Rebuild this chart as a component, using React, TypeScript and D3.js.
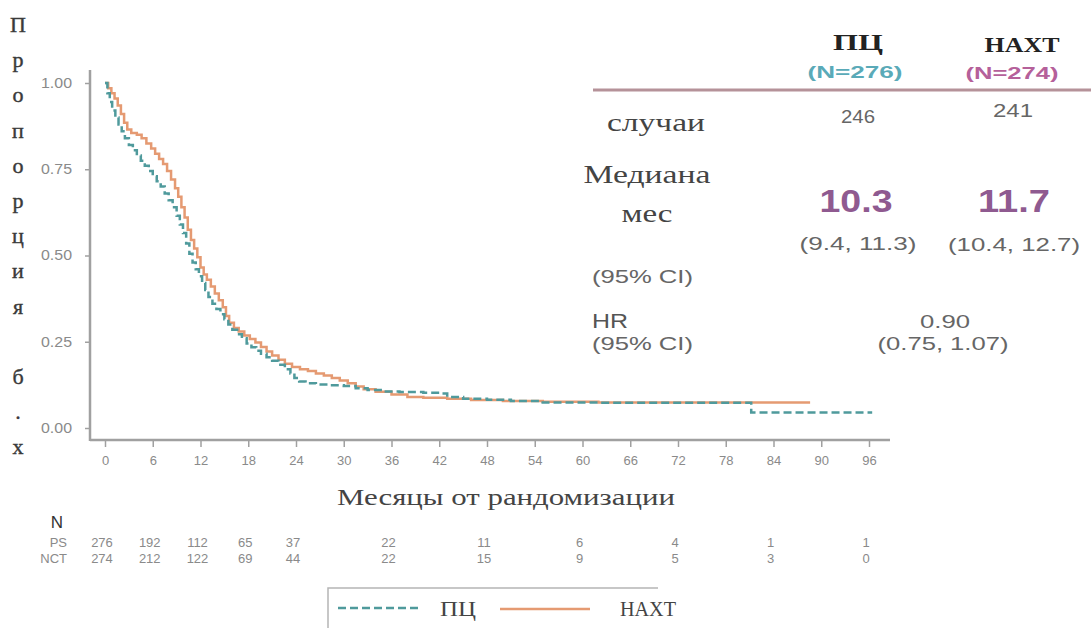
import React, { useEffect, useRef } from "react";
import * as d3 from "d3";

// ---- Data ----
const psTimes = [0, 0.3, 0.6, 0.9, 1.3, 1.7, 2.1, 2.5, 3.0, 3.5, 4.0, 4.5, 5.0, 5.5, 6.0, 6.5, 7.0, 7.5, 8.0, 8.5, 9.0, 9.4, 9.8, 10.2, 10.6, 11.0, 11.4, 11.8, 12.2, 12.6, 13.0, 13.5, 14.0, 14.5, 15.0, 15.5, 16.0, 16.6, 17.2, 17.8, 18.4, 19.0, 19.6, 20.3, 21.0, 21.8, 22.6, 23.3, 23.8, 24.4, 25.2, 26.5, 28, 30, 31.5, 33, 35, 37, 40, 42, 43, 45, 48, 51, 55, 62, 81.2, 96.4];
const psValues = [1.0, 0.97, 0.945, 0.92, 0.9, 0.88, 0.86, 0.84, 0.82, 0.805, 0.79, 0.775, 0.76, 0.745, 0.73, 0.715, 0.7, 0.68, 0.66, 0.64, 0.615, 0.59, 0.565, 0.535, 0.505, 0.48, 0.46, 0.44, 0.42, 0.4, 0.38, 0.36, 0.345, 0.33, 0.315, 0.3, 0.285, 0.272, 0.26, 0.245, 0.234, 0.224, 0.215, 0.205, 0.195, 0.183, 0.17, 0.158, 0.145, 0.135, 0.13, 0.126, 0.124, 0.122, 0.115, 0.11, 0.106, 0.104, 0.102, 0.1, 0.09, 0.085, 0.082, 0.078, 0.074, 0.073, 0.045, 0.045];

const nctTimes = [0, 0.4, 0.8, 1.2, 1.6, 2.0, 2.4, 2.8, 3.3, 4.0, 4.6, 5.2, 5.8, 6.3, 6.8, 7.3, 7.8, 8.3, 8.8, 9.2, 9.6, 10.0, 10.4, 10.8, 11.2, 11.6, 12.0, 12.4, 12.8, 13.3, 13.8, 14.3, 14.8, 15.2, 15.6, 16.2, 16.8, 17.5, 18.2, 18.9, 19.6, 20.3, 21.0, 21.8, 22.6, 23.5, 24.5, 25.5, 26.5, 27.5, 28.5, 29.5, 30.5, 31.5, 32.5, 34, 36, 38, 40, 43, 46, 50, 55, 62, 88.6];
const nctValues = [1.0, 0.985, 0.97, 0.955, 0.935, 0.91, 0.885, 0.865, 0.855, 0.85, 0.84, 0.825, 0.81, 0.795, 0.78, 0.765, 0.745, 0.72, 0.695, 0.67, 0.64, 0.61, 0.575, 0.545, 0.52, 0.495, 0.465, 0.445, 0.43, 0.41, 0.39, 0.37, 0.35, 0.325, 0.305, 0.29, 0.28, 0.268, 0.258, 0.248, 0.235, 0.222, 0.21, 0.198, 0.186, 0.177, 0.17, 0.165, 0.158, 0.152, 0.145, 0.138, 0.13, 0.12, 0.112, 0.105, 0.097, 0.09, 0.088, 0.085, 0.081, 0.078, 0.076, 0.074, 0.074];

const xTicks = [0, 6, 12, 18, 24, 30, 36, 42, 48, 54, 60, 66, 72, 78, 84, 90, 96];
const yTicks = [0, 0.25, 0.5, 0.75, 1.0];

const riskTimes = [0, 6, 12, 18, 24, 36, 48, 60, 72, 84, 96];
const riskPS = [276, 192, 112, 65, 37, 22, 11, 6, 4, 1, 1];
const riskNCT = [274, 212, 122, 69, 44, 22, 15, 9, 5, 3, 0];

const yLabelChars = ["П", "р", "о", "п", "о", "р", "ц", "и", "я", " ", "б", ".", "х"];

const TEAL = "#4f9a9c";
const ORANGE = "#e59a72";
const SERIF = "'Liberation Serif', 'DejaVu Serif', serif";
const SANS = "'Liberation Sans', Arial, sans-serif";
const NARROW = "'Liberation Sans Narrow', 'Liberation Sans', sans-serif";

type TP = { x: number; y: number; w: number; size: number; fill: string; family?: string; bold?: boolean; anchor?: string; children: React.ReactNode };
function T({ x, y, w, size, fill, family = SANS, bold = false, anchor = "start", children }: TP) {
  return (
    <text
      x={x}
      y={y}
      textLength={w}
      lengthAdjust="spacingAndGlyphs"
      fontFamily={family}
      fontWeight={bold ? "bold" : "normal"}
      fontSize={size}
      fill={fill}
      textAnchor={anchor as any}
    >
      {children}
    </text>
  );
}

export default function App() {
  const xAxisRef = useRef<SVGGElement>(null);
  const yAxisRef = useRef<SVGGElement>(null);

  const x = d3.scaleLinear().domain([0, 96]).range([105, 869]);
  const y = d3.scaleLinear().domain([0, 1]).range([428, 83]);

  useEffect(() => {
    if (xAxisRef.current) {
      const g = d3.select(xAxisRef.current);
      g.selectAll("*").remove();
      g.call(d3.axisBottom(x).tickValues(xTicks).tickSize(7).tickPadding(9).tickFormat(d3.format("d")) as any);
      g.select(".domain").attr("d", "M90,0H890").attr("stroke", "#a0a0a0").attr("stroke-width", 2.5);
      g.selectAll(".tick line").attr("stroke", "#a0a0a0").attr("stroke-width", 1.5);
      g.selectAll(".tick text").attr("fill", "#8a8a8a").attr("font-size", 13).attr("font-family", NARROW);
    }
    if (yAxisRef.current) {
      const g = d3.select(yAxisRef.current);
      g.selectAll("*").remove();
      g.call(d3.axisLeft(y).tickValues(yTicks).tickSize(5).tickPadding(13).tickFormat(d3.format(".2f")) as any);
      g.select(".domain").attr("d", "M0,70V441").attr("stroke", "#a0a0a0").attr("stroke-width", 2.5);
      g.selectAll(".tick line").attr("stroke", "#a0a0a0").attr("stroke-width", 1.5);
      g.selectAll(".tick text")
        .attr("fill", "#8a8a8a")
        .attr("font-size", 14)
        .attr("font-family", NARROW)
        .attr("textLength", 31)
        .attr("lengthAdjust", "spacingAndGlyphs");
    }
  }, []);

  const line = d3
    .line<[number, number]>()
    .x((d) => x(d[0]))
    .y((d) => y(d[1]))
    .curve(d3.curveStepAfter);

  const psPath = line(psTimes.map((t, i) => [t, psValues[i]] as [number, number])) || "";
  const nctPath = line(nctTimes.map((t, i) => [t, nctValues[i]] as [number, number])) || "";

  return (
    <svg
      width={1091}
      height={628}
      style={{ position: "absolute", left: 0, top: 0, background: "#fff" }}
    >
      <rect x={0} y={0} width={1091} height={628} fill="#fff" />

      {/* vertical y label */}
      {yLabelChars.map((c, i) => (
        <text
          key={i}
          x={18}
          y={32 + i * 35.2}
          textAnchor="middle"
          fontFamily={SERIF}
          fontSize={22}
          fill="#3a3a3a"
          stroke="#3a3a3a"
          strokeWidth={0.4}
        >
          {c}
        </text>
      ))}

      <g ref={yAxisRef} transform="translate(90,0)" />
      <g ref={xAxisRef} transform="translate(0,440)" />

      {/* curves */}
      <path d={nctPath} fill="none" stroke={ORANGE} strokeWidth={2.5} />
      <path d={psPath} fill="none" stroke={TEAL} strokeWidth={2.5} strokeDasharray="8,4" />

      {/* x label */}
      <T x={506} y={505} w={338} size={24} fill="#444" family={SERIF} anchor="middle">
        Месяцы от рандомизации
      </T>

      {/* number at risk */}
      <text x={57} y={528} textAnchor="middle" fontFamily={SANS} fontSize={17} fill="#333">
        N
      </text>
      <text x={67} y={547} textAnchor="end" fontFamily={NARROW} fontSize={13} fill="#8a8a8a">
        PS
      </text>
      <text x={67} y={563} textAnchor="end" fontFamily={NARROW} fontSize={13} fill="#8a8a8a">
        NCT
      </text>
      {riskTimes.map((t, i) => (
        <g key={t}>
          <text x={x(t) - 3} y={547} textAnchor="middle" fontFamily={NARROW} fontSize={13} fill="#8a8a8a">
            {riskPS[i]}
          </text>
          <text x={x(t) - 3} y={563} textAnchor="middle" fontFamily={NARROW} fontSize={13} fill="#8a8a8a">
            {riskNCT[i]}
          </text>
        </g>
      ))}

      {/* legend */}
      <path d="M328,628V588H658" fill="none" stroke="#b5b5b5" strokeWidth={1.5} />
      <line x1={338} x2={420} y1={608} y2={608} stroke={TEAL} strokeWidth={2.5} strokeDasharray="8,4" />
      <T x={440} y={616} w={36} size={21} fill="#444" family={SERIF}>ПЦ</T>
      <line x1={500} x2={590} y1={609} y2={609} stroke={ORANGE} strokeWidth={2.5} />
      <T x={620} y={616} w={56} size={21} fill="#444" family={SERIF}>НАХТ</T>

      {/* right-side table */}
      <T x={858} y={50} w={50} size={24} fill="#222" family={SERIF} bold anchor="middle">ПЦ</T>
      <T x={1022} y={52} w={75} size={22} fill="#222" family={SERIF} bold anchor="middle">НАХТ</T>
      <T x={855} y={78} w={95} size={17} fill="#5aaab8" bold anchor="middle">(N=276)</T>
      <T x={1012} y={79} w={93} size={17} fill="#b5609a" bold anchor="middle">(N=274)</T>
      <line x1={593} x2={1091} y1={90} y2={90} stroke="#b59299" strokeWidth={3} />

      <T x={656} y={131} w={98} size={26} fill="#444" family={SERIF} anchor="middle">случаи</T>
      <T x={858} y={123} w={34} size={19} fill="#666" anchor="middle">246</T>
      <T x={1013} y={117} w={40} size={19} fill="#666" anchor="middle">241</T>

      <T x={647} y={183} w={127} size={26} fill="#444" family={SERIF} anchor="middle">Медиана</T>
      <T x={647} y={222} w={51} size={26} fill="#444" family={SERIF} anchor="middle">мес</T>
      <T x={856} y={212} w={73} size={32} fill="#8f5a90" bold anchor="middle">10.3</T>
      <T x={1014} y={212} w={72} size={32} fill="#8f5a90" bold anchor="middle">11.7</T>
      <T x={858} y={250} w={117} size={19} fill="#666" anchor="middle">(9.4, 11.3)</T>
      <T x={1014} y={251} w={132} size={19} fill="#666" anchor="middle">(10.4, 12.7)</T>

      <T x={592} y={283} w={101} size={19} fill="#666">(95% CI)</T>
      <T x={592} y={328} w={36} size={20} fill="#555">HR</T>
      <T x={592} y={350} w={101} size={19} fill="#666">(95% CI)</T>
      <T x={945} y={328} w={50} size={19} fill="#666" anchor="middle">0.90</T>
      <T x={943} y={350} w={131} size={19} fill="#666" anchor="middle">(0.75, 1.07)</T>
    </svg>
  );
}
